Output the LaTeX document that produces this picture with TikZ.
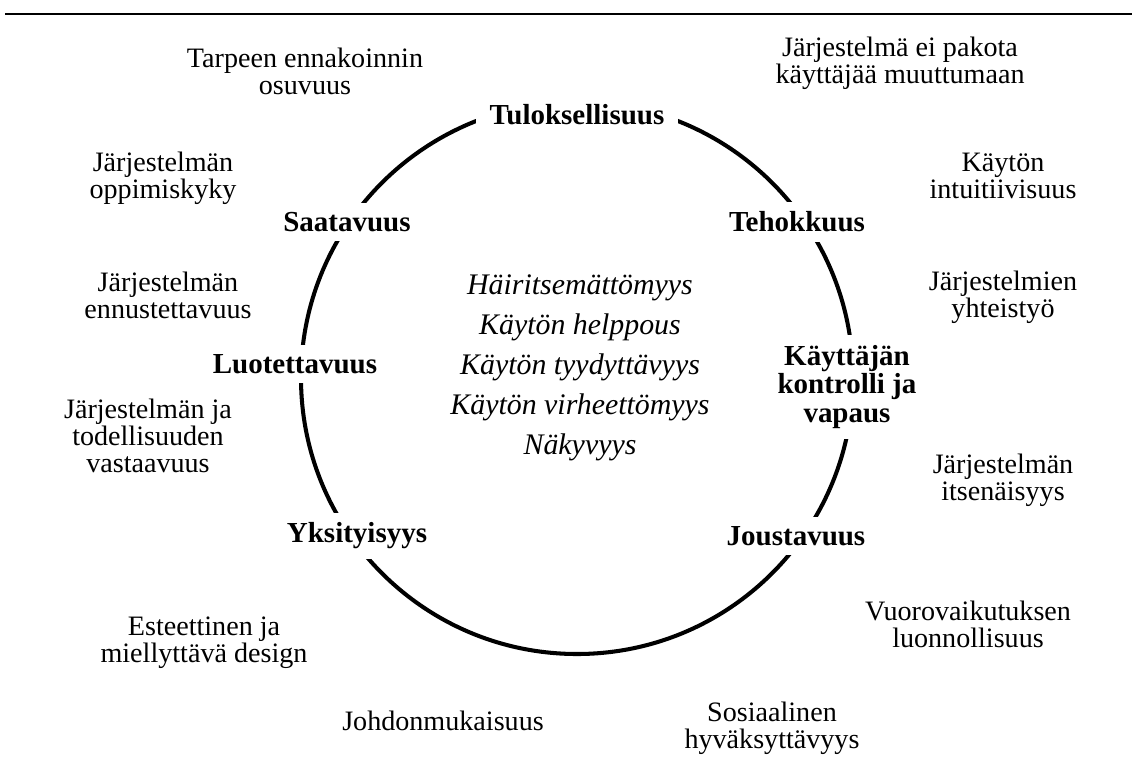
\documentclass[tikz,border=0pt]{standalone}
\usepackage{fontspec}
\setmainfont{Liberation Serif}
\begin{document}
\begin{tikzpicture}[x=0.02cm,y=-0.02cm,
    ulko/.style={align=center,font=\fontsize{16}{15.3}\selectfont},
    ominaisuus/.style={align=center,fill=white,inner xsep=8pt,inner ysep=5.5pt,
      font=\bfseries\fontsize{16.5}{16.4}\selectfont},
    keski/.style={align=center,font=\itshape\fontsize{17}{22.7}\selectfont}]
    \useasboundingbox (0,0) rectangle (1135,771);

    %Ylaviiva
    \draw[line width=1.5pt] (5,14) -- (1132,14);

    %Ympyra, nimet peittavat sen kohdalta
    \draw[line width=2.3pt] (577,378) circle (276);

    %Ympyran ominaisuudet
    \node[ominaisuus] (tulos) at (577,115) {Tuloksellisuus};
    \node[ominaisuus] (saata) at (347,222) {Saatavuus};
    \node[ominaisuus] (teho) at (797,222) {Tehokkuus};
    \node[ominaisuus] (luote) at (295,364) {Luotettavuus};
    \node[ominaisuus] (kontr) at (847,387) {Käyttäjän\\kontrolli ja\\vapaus};
    \node[ominaisuus] (yksit) at (357,536) {Yksityisyys};
    \node[ominaisuus] (joust) at (796,536) {Joustavuus};

    %Keskelle
    \node[keski] (keskus) at (580,368) {Häiritsemättömyys\\Käytön helppous\\Käytön tyydyttävyys\\Käytön virheettömyys\\Näkyvyys};

    %Ulkopuolelle
    \node[ulko] (tarve) at (305,71) {Tarpeen ennakoinnin\\osuvuus};
    \node[ulko] (pakota) at (900,63) {Järjestelmä ei pakota\\käyttäjää muuttumaan};
    \node[ulko] (oppi) at (163,178) {Järjestelmän\\oppimiskyky};
    \node[ulko] (intui) at (1003,176) {Käytön\\intuitiivisuus};
    \node[ulko] (ennus) at (168,295) {Järjestelmän\\ennustettavuus};
    \node[ulko] (yhteis) at (1003,297) {Järjestelmien\\yhteistyö};
    \node[ulko] (vasta) at (148,436) {Järjestelmän ja\\todellisuuden\\vastaavuus};
    \node[ulko] (itsen) at (1003,480) {Järjestelmän\\itsenäisyys};
    \node[ulko] (estee) at (204,643) {Esteettinen ja\\miellyttävä design};
    \node[ulko] (vuoro) at (968,624) {Vuorovaikutuksen\\luonnollisuus};
    \node[ulko] (johdon) at (443,721) {Johdonmukaisuus};
    \node[ulko] (sosi) at (772,728) {Sosiaalinen\\hyväksyttävyys};
\end{tikzpicture}
\end{document}
